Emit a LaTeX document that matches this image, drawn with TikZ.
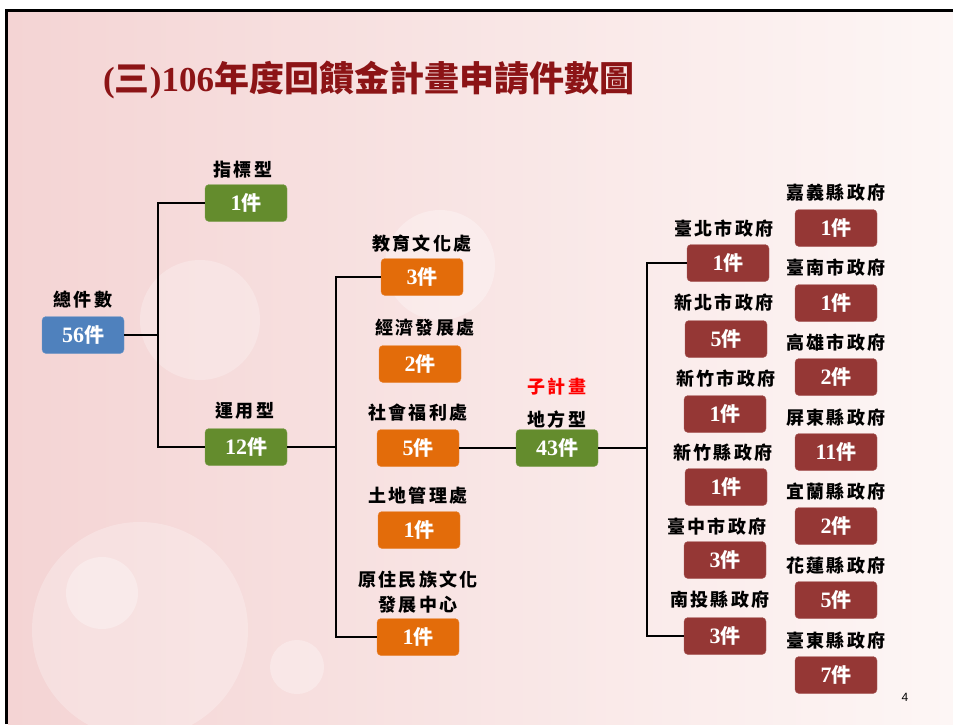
\documentclass[tikz,border=0pt]{standalone}
\usepackage{fontspec}
\setmainfont{Liberation Serif}
\newfontfamily\cjk{Noto Sans CJK TC}
\newfontfamily\cjksp{Noto Sans CJK TC}[LetterSpace=12]
\newfontfamily\sanspn{Liberation Sans}
\usetikzlibrary{calc}
\definecolor{totblue}{RGB}{79, 129, 189}
\definecolor{typegreen}{RGB}{100, 140, 45}
\definecolor{deptorange}{RGB}{227, 108, 10}
\definecolor{govred}{RGB}{149, 55, 53}
\definecolor{titlered}{RGB}{140, 20, 22}
\definecolor{bgpink}{RGB}{244, 212, 212}
\definecolor{bglight}{RGB}{253, 246, 245}
\newcommand{\jian}[1]{{\bfseries\fontsize{22}{22}\selectfont #1}{\cjk\bfseries\fontsize{20}{20}\selectfont 件}}

\begin{document}
\begin{tikzpicture}[x=1pt, y=-1pt,
  numbox/.style={rounded corners=4pt, minimum width=82pt, minimum height=37pt,
    inner sep=0pt, text=white, draw=#1!80!white, fill=#1},
  lbl/.style={font=\cjksp\bfseries\fontsize{18}{25}\selectfont, align=center, inner sep=0pt},
  conn/.style={line width=2pt, black}]
  \useasboundingbox (0,0) rectangle (953,724);

  % background and frame
  \shade[left color=bgpink, right color=bglight] (8,12) rectangle (953,724);
  \fill[white, opacity=0.25] (140,630) circle (108);
  \fill[white, opacity=0.3] (102,593) circle (36);
  \fill[white, opacity=0.3] (297,667) circle (27);
  \fill[white, opacity=0.25] (200,320) circle (60);
  \fill[white, opacity=0.3] (440,265) circle (55);
  \draw[line width=3pt] (6.5,724) -- (6.5,10.5) -- (953,10.5);

  % title
  \node[anchor=west, inner sep=0pt, text=titlered, font=\bfseries\fontsize{35}{35}\selectfont] (title) at (103,80)
    {(\cjk 三\normalfont\bfseries)106\cjk 年度回饋金計畫申請件數圖};

  % total and its two types
  \node[numbox=totblue] (tot) at (83,335) {\jian{56}};
  \node[lbl] (totlbl) at (83,300) {總件數};
  \node[numbox=typegreen] (zhibiao) at (246,203) {\jian{1}};
  \node[lbl] (zhibiaolbl) at (243,170) {指標型};
  \node[numbox=typegreen] (yunyong) at (246,447) {\jian{12}};
  \node[lbl] (yunyonglbl) at (245,411) {運用型};

  % departments
  \node[numbox=deptorange] (edu) at (422,277) {\jian{3}};
  \node[lbl] (edulbl) at (422,244) {教育文化處};
  \node[numbox=deptorange] (econ) at (420,364) {\jian{2}};
  \node[lbl] (econlbl) at (425,328) {經濟發展處};
  \node[numbox=deptorange] (welfare) at (418,448) {\jian{5}};
  \node[lbl] (welfarelbl) at (418,413) {社會福利處};
  \node[numbox=deptorange] (land) at (419,530) {\jian{1}};
  \node[lbl] (landlbl) at (418,496) {土地管理處};
  \node[numbox=deptorange] (yuan) at (418,637) {\jian{1}};
  \node[lbl] (yuanlbl) at (418,592) {原住民族文化\\發展中心};

  % local sub-plan
  \node[numbox=typegreen] (local) at (557,448) {\jian{43}};
  \node[lbl] (locallbl) at (557,420) {地方型};
  \node[lbl, text=red] (sublbl) at (557,387) {子計畫};

  % county and city governments
  \foreach \nm/\x/\y/\lx/\ly/\n/\gov in {
      taipei/728/263/724/229/1/臺北市政府,
      newtp/726/339/724/303/5/新北市政府,
      hsinchuc/725/414/726/379/1/新竹市政府,
      hsinchuco/726/487/723/453/1/新竹縣政府,
      taichung/725/560/717/527/3/臺中市政府,
      nantou/725/636/720/600/3/南投縣政府,
      chiayi/836/228/836/193/1/嘉義縣政府,
      tainan/836/303/836/268/1/臺南市政府,
      kaohsiung/836/377/836/343/2/高雄市政府,
      pingtung/836/452/836/418/11/屏東縣政府,
      yilan/836/526/836/492/2/宜蘭縣政府,
      hualien/836/600/836/566/5/花蓮縣政府,
      taitung/836/675/836/641/7/臺東縣政府} {
    \node[numbox=govred] (\nm) at (\x,\y) {\jian{\n}};
    \node[lbl] (\nm lbl) at (\lx,\ly) {\gov};
  }

  % connectors
  \coordinate (j1) at (158,335);
  \coordinate (j2) at (336,447);
  \coordinate (j3) at (647,448);
  \draw[conn] (tot.east) -- (j1);
  \draw[conn] (zhibiao.west) -| (j1) |- (yunyong.west);
  \draw[conn] (yunyong.east) -- (j2);
  \draw[conn] (edu.west) -| (j2) |- (yuan.west);
  \draw[conn] (welfare.east) -- (local.west);
  \draw[conn] (local.east) -- (j3);
  \draw[conn] (taipei.west) -| (j3) |- (nantou.west);

  \node[font=\sanspn\fontsize{12}{12}\selectfont, inner sep=0pt] (pageno) at (905,697) {4};
\end{tikzpicture}
\end{document}
